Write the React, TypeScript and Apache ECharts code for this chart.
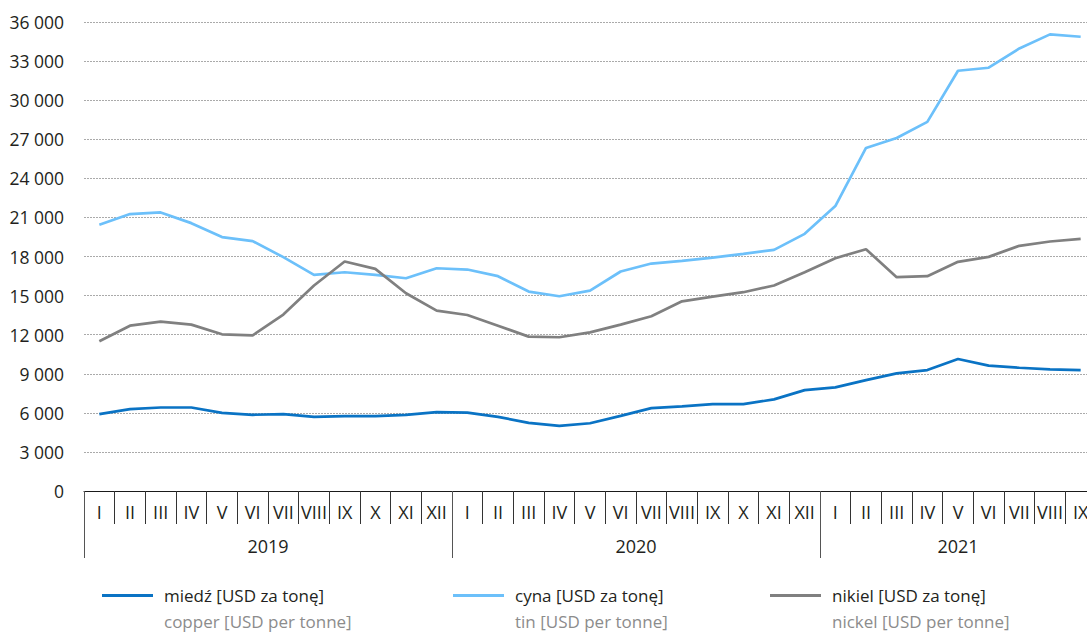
import React, { useEffect, useRef } from "react";
import * as echarts from "echarts";

const months = ["I", "II", "III", "IV", "V", "VI", "VII", "VIII", "IX", "X", "XI", "XII"];
const years = ["2019", "2020", "2021"];
const monthsPerYear = [12, 12, 9];

const categories: string[] = [];
monthsPerYear.forEach((n) => {
  for (let i = 0; i < n; i++) categories.push(months[i]);
});

const copper = [5900, 6280, 6410, 6410, 6000, 5850, 5900, 5690, 5740, 5740, 5850, 6050,
  6020, 5690, 5230, 5000, 5200, 5770, 6360, 6490, 6670, 6670, 7030, 7740,
  7950, 8510, 9030, 9280, 10130, 9620, 9460, 9330, 9280];
const tin = [20440, 21260, 21380, 20560, 19490, 19180, 17950, 16590, 16790, 16590, 16330, 17100,
  17000, 16490, 15310, 14950, 15380, 16850, 17460, 17670, 17920, 18200, 18510, 19740,
  21870, 26330, 27100, 28330, 32260, 32490, 33970, 35050, 34870];
const nickel = [11490, 12690, 13000, 12770, 12030, 11950, 13540, 15770, 17620, 17050, 15180, 13850,
  13510, 12690, 11850, 11800, 12180, 12770, 13410, 14560, 14920, 15260, 15770, 16790,
  17870, 18560, 16410, 16490, 17590, 17970, 18820, 19150, 19360];

const seriesNamesPl = ["miedź [USD za tonę]", "cyna [USD za tonę]", "nikiel [USD za tonę]"];
const seriesNamesEn = ["copper [USD per tonne]", "tin [USD per tonne]", "nickel [USD per tonne]"];
const colors = ["#0a73c4", "#6cc0fa", "#808080"];

const FONT = "Open Sans";

export default function App() {
  const ref = useRef<HTMLDivElement>(null);
  useEffect(() => {
    if (!ref.current) return;
    const chart = echarts.init(ref.current, null, { renderer: "svg" });

    const bounds: number[] = [0];
    const centres: number[] = [];
    let acc = 0;
    monthsPerYear.forEach((n) => {
      centres.push(acc + n / 2);
      acc += n;
      bounds.push(acc);
    });

    const dataSets = [copper, tin, nickel];
    const legendLefts = [102, 453, 770];

    chart.setOption({
      animation: false,
      textStyle: { fontFamily: FONT },
      grid: { left: 84, right: -9, top: 22, bottom: 143, outerBoundsMode: "none", containLabel: false },
      legend: seriesNamesPl.map((name, i) => ({
        data: [name],
        left: legendLefts[i],
        top: 561,
        padding: 0,
        icon: "rect",
        itemWidth: 51,
        itemHeight: 3,
        selectedMode: false,
        formatter: () => `{c| }\n{a|${seriesNamesPl[i]}}\n{b|${seriesNamesEn[i]}}`,
        textStyle: {
          fontFamily: FONT,
          rich: {
            c: { fontSize: 17, lineHeight: 26, fontFamily: FONT },
            a: { fontSize: 17, lineHeight: 26, color: "#231f20", padding: [0, 0, 0, 6], fontFamily: FONT },
            b: { fontSize: 17, lineHeight: 26, color: "#8c8c8c", padding: [0, 0, 0, 6], fontFamily: FONT },
          },
        },
      })),
      xAxis: [
        {
          type: "category",
          data: categories,
          boundaryGap: true,
          position: "bottom",
          axisLine: { show: true, lineStyle: { color: "#1a1a1a", width: 1 } },
          axisTick: { show: true, interval: 0, length: 33, lineStyle: { color: "#333", width: 1 } },
          axisLabel: { interval: 0, margin: 12, fontSize: 18, color: "#231f20", fontFamily: FONT },
          splitLine: { show: false },
        },
        {
          type: "value",
          min: 0,
          max: acc,
          position: "bottom",
          offset: 0,
          axisLine: { show: false },
          splitLine: { show: false },
          axisTick: { show: true, customValues: bounds, length: 67, lineStyle: { color: "#555", width: 1 } },
          axisLabel: {
            show: true,
            customValues: centres,
            margin: 46,
            fontSize: 18,
            color: "#231f20",
            fontFamily: FONT,
            formatter: (v: number) => {
              const idx = centres.findIndex((c) => Math.abs(c - v) < 1e-6);
              return idx >= 0 ? years[idx] : "";
            },
          },
        },
      ],
      yAxis: {
        type: "value",
        min: 0,
        max: 36000,
        interval: 3000,
        axisLine: { show: false },
        axisTick: { show: false },
        axisLabel: {
          margin: 20,
          fontSize: 17.5,
          color: "#231f20",
          fontFamily: FONT,
          formatter: (v: number) => String(v).replace(/\B(?=(\d{3})+(?!\d))/g, " "),
        },
        splitLine: { show: true, lineStyle: { color: "#aaaaaa", width: 1, type: [2, 1] } },
      },
      series: dataSets.map((d, i) => ({
        name: seriesNamesPl[i],
        type: "line",
        data: d,
        xAxisIndex: 0,
        symbol: "none",
        smooth: false,
        color: colors[i],
        lineStyle: { color: colors[i], width: 2.7 },
        z: i === 0 ? 5 : 3,
      })),
    });
    return () => chart.dispose();
  }, []);
  return (
    <div
      ref={ref}
      style={{ position: "fixed", left: 0, top: 0, width: 1087, height: 634, background: "#fff" }}
    />
  );
}
